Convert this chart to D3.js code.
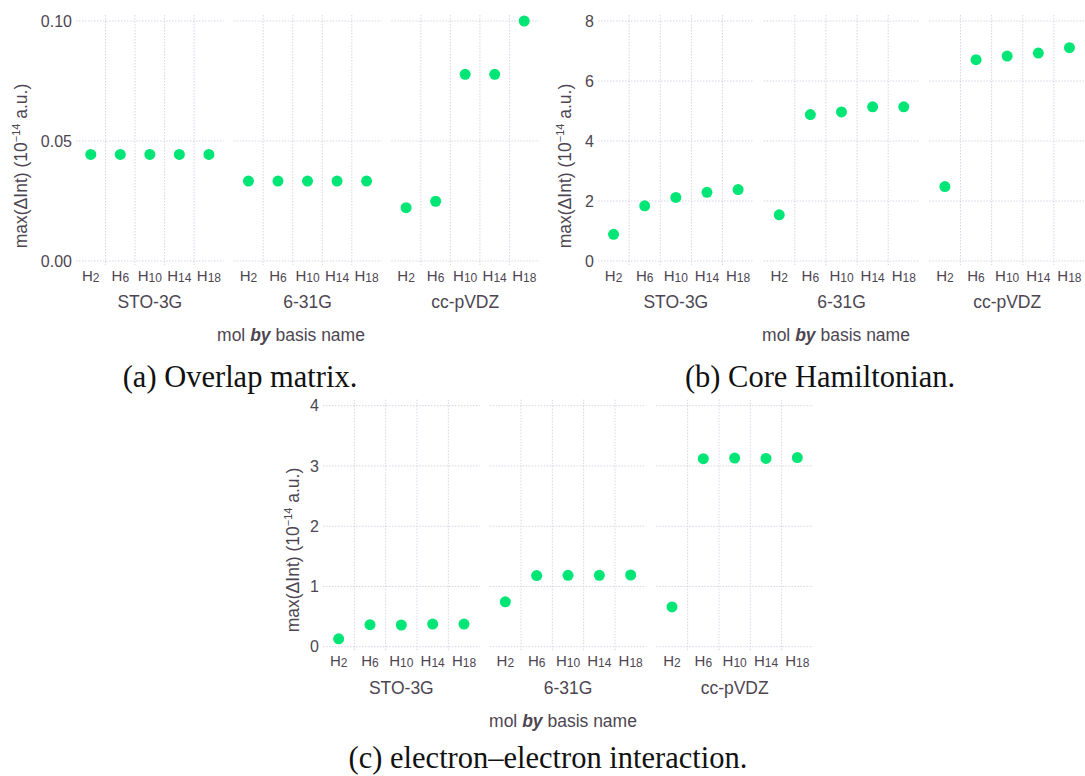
<!DOCTYPE html>
<html>
<head>
<meta charset="utf-8">
<script src="https://cdn.jsdelivr.net/npm/d3@7"></script>
<style>
  html, body { margin: 0; padding: 0; background: #ffffff; }
  svg { display: block; }
</style>
</head>
<body>
<svg id="chart" width="1085" height="776"></svg>
<script>
// ---------------- data ----------------
const molecules = ["H2", "H6", "H10", "H14", "H18"];
const bases = ["STO-3G", "6-31G", "cc-pVDZ"];

const overlapSTO3G  = [0.0444, 0.0444, 0.0444, 0.0444, 0.0444];
const overlap631G   = [0.0333, 0.0333, 0.0333, 0.0333, 0.0333];
const overlapCCPVDZ = [0.0222, 0.0249, 0.0778, 0.0778, 0.1000];

const coreSTO3G  = [0.89, 1.84, 2.12, 2.29, 2.38];
const core631G   = [1.54, 4.88, 4.97, 5.14, 5.14];
const coreCCPVDZ = [2.48, 6.71, 6.83, 6.93, 7.11];

const eeSTO3G  = [0.13, 0.365, 0.36, 0.375, 0.375];
const ee631G   = [0.745, 1.18, 1.185, 1.185, 1.19];
const eeCCPVDZ = [0.66, 3.12, 3.13, 3.125, 3.14];

const overlapTicks = [0, 0.05, 0.10];
const coreTicks = [0, 2, 4, 6, 8];
const eeTicks = [0, 1, 2, 3, 4];

const captions = ["(a) Overlap matrix.", "(b) Core Hamiltonian.", "(c) electron\u2013electron interaction."];

// ---------------- style ----------------
const TEXT = "#4d4652";
const GRID = "#d6d4e4";
const POINT = "#00e676";
const SANS = "'Liberation Sans', Arial, Helvetica, sans-serif";
const SERIF = "'Liberation Serif', 'Times New Roman', serif";

const svg = d3.select("#chart");

const panels = [
  { series: [overlapSTO3G, overlap631G, overlapCCPVDZ], ticks: overlapTicks, fmt: d3.format(".2f"),
    left: 76, right: 539, top: 21, bottom: 261, yTitleX: 21, yTitleY: 166, xLabelX: 291,
    caption: captions[0], capX: 240, capY: 387 },
  { series: [coreSTO3G, core631G, coreCCPVDZ], ticks: coreTicks, fmt: d3.format("d"),
    left: 598, right: 1085, top: 21, bottom: 261, yTitleX: 565, yTitleY: 166, xLabelX: 836,
    caption: captions[1], capX: 820, capY: 387 },
  { series: [eeSTO3G, ee631G, eeCCPVDZ], ticks: eeTicks, fmt: d3.format("d"),
    left: 323, right: 813, top: 405.7, bottom: 646.7, yTitleX: 293, yTitleY: 550, xLabelX: 563,
    caption: captions[2], capX: 548, capY: 768 }
];

const GAP = 10;

panels.forEach(p => {
  const g = svg.append("g");
  const y = d3.scaleLinear()
    .domain([p.ticks[0], p.ticks[p.ticks.length - 1]])
    .range([p.bottom, p.top]);

  const facet = d3.scaleBand()
    .domain(bases)
    .range([p.left, p.right])
    .paddingInner(GAP * 3 / (p.right - p.left + GAP))
    .paddingOuter(0);
  const fw = facet.bandwidth();

  bases.forEach((b, bi) => {
    const fx = facet(b);
    const x = d3.scaleBand().domain(molecules).range([fx, fx + fw]).padding(0);
    const fg = g.append("g");

    // horizontal grid
    fg.selectAll("line.h").data(p.ticks).join("line")
      .attr("x1", fx).attr("x2", fx + fw)
      .attr("y1", d => y(d)).attr("y2", d => y(d))
      .attr("stroke", GRID).attr("stroke-width", 1)
      .attr("stroke-dasharray", "1.5,1.5");

    // vertical grid at inner band boundaries
    fg.selectAll("line.v").data(molecules.slice(1)).join("line")
      .attr("x1", d => x(d)).attr("x2", d => x(d))
      .attr("y1", p.top - 6).attr("y2", p.bottom + 4)
      .attr("stroke", GRID).attr("stroke-width", 1)
      .attr("stroke-dasharray", "1.5,1.5");

    // x tick labels with subscripts
    const tl = fg.selectAll("text.xt").data(molecules).join("text")
      .attr("x", d => x(d) + x.bandwidth() / 2)
      .attr("y", p.bottom + 19.5)
      .attr("text-anchor", "middle")
      .attr("font-family", SANS)
      .attr("font-size", 15)
      .attr("fill", TEXT);
    tl.append("tspan").text("H");
    tl.append("tspan").attr("font-size", 12).attr("dy", 1).text(d => d.slice(1));

    // facet label
    fg.append("text")
      .attr("x", fx + fw / 2).attr("y", p.bottom + 47)
      .attr("text-anchor", "middle")
      .attr("font-family", SANS).attr("font-size", 17.5)
      .attr("fill", TEXT).text(b);

    // points
    fg.selectAll("circle").data(p.series[bi]).join("circle")
      .attr("cx", (d, i) => x(molecules[i]) + x.bandwidth() / 2)
      .attr("cy", d => y(d))
      .attr("r", 5.5)
      .attr("fill", POINT);
  });

  // y tick labels
  g.selectAll("text.yt").data(p.ticks).join("text")
    .attr("x", p.left - 4).attr("y", d => y(d))
    .attr("dy", "0.36em")
    .attr("text-anchor", "end")
    .attr("font-family", SANS).attr("font-size", 16)
    .attr("fill", TEXT).text(d => p.fmt(d));

  // y title
  const yt = g.append("text")
    .attr("transform", `translate(${p.yTitleX},${p.yTitleY}) rotate(-90)`)
    .attr("text-anchor", "middle")
    .attr("dy", "0.35em")
    .attr("font-family", SANS).attr("font-size", 17.5)
    .attr("fill", TEXT);
  yt.append("tspan").text("max(\u0394Int) (10");
  yt.append("tspan").attr("font-size", 11).attr("dy", -7).text("\u221214");
  yt.append("tspan").attr("dy", 7).text(" a.u.)");

  // x label
  const xl = g.append("text")
    .attr("x", p.xLabelX).attr("y", p.bottom + 80)
    .attr("text-anchor", "middle")
    .attr("font-family", SANS).attr("font-size", 17.5)
    .attr("fill", TEXT);
  xl.append("tspan").text("mol ");
  xl.append("tspan").attr("font-weight", "bold").attr("font-style", "italic").text("by");
  xl.append("tspan").text(" basis name");

  // caption
  svg.append("text")
    .attr("x", p.capX).attr("y", p.capY)
    .attr("text-anchor", "middle")
    .attr("font-family", SERIF).attr("font-size", 30.5)
    .attr("fill", "#111111").text(p.caption);
});
</script>
</body>
</html>
